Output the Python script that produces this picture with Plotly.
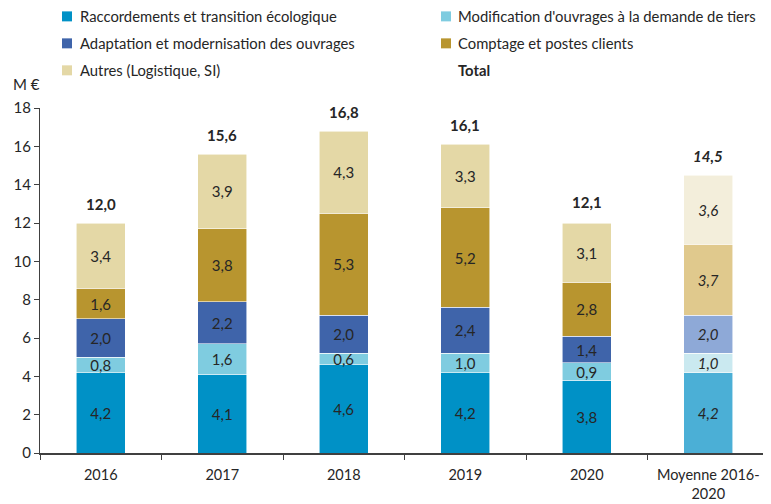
import plotly.graph_objects as go

categories = ["2016", "2017", "2018", "2019", "2020", "Moyenne 2016-<br>2020"]
raccordements = [4.2, 4.1, 4.6, 4.2, 3.8, 4.2]
modification = [0.8, 1.6, 0.6, 1.0, 0.9, 1.0]
adaptation = [2.0, 2.2, 2.0, 2.4, 1.4, 2.0]
comptage = [1.6, 3.8, 5.3, 5.2, 2.8, 3.7]
autres = [3.4, 3.9, 4.3, 3.3, 3.1, 3.6]
total = [12.0, 15.6, 16.8, 16.1, 12.1, 14.5]

series = [
    ("Raccordements et transition écologique", raccordements, "#0091C6", "#4BAFD6"),
    ("Modification d'ouvrages à la demande de tiers", modification, "#7FCCE0", "#CAE9F0"),
    ("Adaptation et modernisation des ouvrages", adaptation, "#3F64AA", "#8EA9D7"),
    ("Comptage et postes clients", comptage, "#B8952F", "#E0C98D"),
    ("Autres (Logistique, SI)", autres, "#E4D8A6", "#F3EEDB"),
]

FONT = "Lato, 'Open Sans', sans-serif"
TXT = "#262626"

def fmt(v):
    return f"{v:.1f}".replace(".", ",")

fig = go.Figure()
n = len(categories)
for name, vals, col, avgcol in series:
    colors = [col] * (n - 1) + [avgcol]
    texts = [fmt(v) for v in vals[:-1]] + ["<i>" + fmt(vals[-1]) + "</i>"]
    fig.add_trace(go.Bar(
        x=categories, y=vals, name=name,
        marker=dict(color=colors, line=dict(color="rgba(255,255,255,0.7)", width=0.8)),
        text=texts, textposition="inside", insidetextanchor="middle",
        textangle=0, constraintext="none",
        textfont=dict(family=FONT, size=15, color=TXT),
        showlegend=False, hoverinfo="skip",
    ))

annotations = []
# total labels above each stack (x given as category index)
for i, v in enumerate(total):
    t = "<b>" + fmt(v) + "</b>"
    if i == n - 1:
        t = "<b><i>" + fmt(v) + "</i></b>"
    annotations.append(dict(x=i, y=v, xref="x", yref="y", text=t, showarrow=False,
                            yanchor="middle", yshift=19,
                            font=dict(family=FONT, size=15, color=TXT)))

# manual legend (page pixel positions converted to paper coords)
legend_items = [
    (series[0][0], series[0][2], 0), (series[1][0], series[1][2], 1),
    (series[2][0], series[2][2], 0), (series[3][0], series[3][2], 1),
    (series[4][0], series[4][2], 0), ("<b>Total</b>", None, 1),
]
X0, PW = 40, 729
Y0, PH = 453, 345.3
col_sq = [62, 441]
col_tx = [78, 456]
rows = [16, 43, 70]
shapes = []
for i, (label, color, c) in enumerate(legend_items):
    yc = rows[i // 2]
    if color:
        shapes.append(dict(type="rect", xref="paper", yref="paper",
                           x0=(col_sq[c] - X0) / PW, x1=(col_sq[c] + 10 - X0) / PW,
                           y0=(Y0 - (yc + 5)) / PH, y1=(Y0 - (yc - 5)) / PH,
                           fillcolor=color, line=dict(width=0)))
    annotations.append(dict(xref="paper", yref="paper",
                            x=(col_tx[c] - X0) / PW, y=(Y0 - yc) / PH,
                            xanchor="left", yanchor="middle", showarrow=False,
                            text=label, font=dict(family=FONT, size=14.8, color=TXT)))
annotations.append(dict(xref="paper", yref="paper", x=(11 - X0) / PW, y=(Y0 - 84) / PH,
                        xanchor="left", yanchor="middle", showarrow=False,
                        text="M €", font=dict(family=FONT, size=15, color=TXT)))

# page has an 8px body margin: figure is drawn at (8, 8)
fig.update_layout(
    barmode="stack", bargap=0.6,
    width=763, height=496,
    margin=dict(l=32, r=2, t=99.7, b=51, pad=0),
    plot_bgcolor="white", paper_bgcolor="white",
    font=dict(family=FONT, size=15, color=TXT),
    shapes=shapes, annotations=annotations,
    showlegend=False,
)
fig.update_yaxes(range=[0, 18], dtick=2, showgrid=False, zeroline=False,
                 showline=True, linecolor="#404040", linewidth=1,
                 ticks="outside", ticklen=5, tickcolor="#404040",
                 tickfont=dict(family=FONT, size=15, color=TXT))
fig.update_xaxes(type="category", range=[-0.5, n - 0.5],
                 showgrid=False, showline=True, linecolor="#404040", linewidth=1.5,
                 ticks="outside", ticklen=5, tickcolor="#404040", tickson="boundaries",
                 ticklabelstandoff=8, tickangle=0,
                 tickfont=dict(family=FONT, size=14.5, color=TXT))

fig.write_html("out.html")
